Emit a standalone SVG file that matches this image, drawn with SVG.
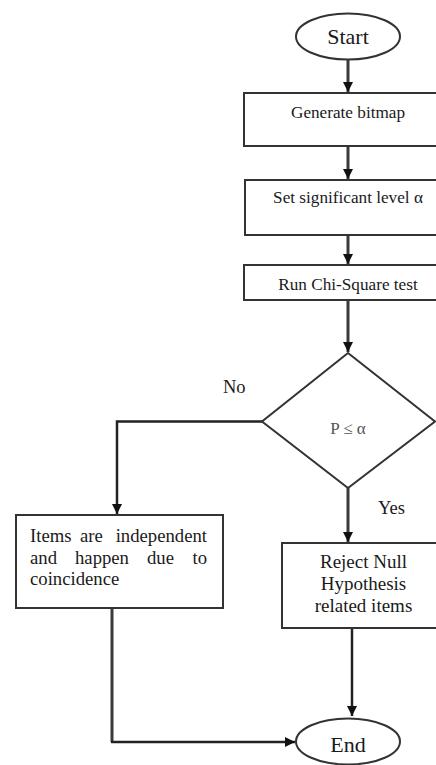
<svg xmlns="http://www.w3.org/2000/svg" width="436" height="765" viewBox="0 0 436 765">
<style>
.shape{fill:#fff;stroke:#333;stroke-width:2}
.t{font-family:"Liberation Serif","Times New Roman",serif;fill:#1a1a1a}
.c{text-anchor:middle}
.e{text-anchor:end}
.line{fill:none;stroke:#3a3a3a;stroke-width:3}
.thin{fill:none;stroke:#222;stroke-width:2.5}
</style>
<defs>
<marker id="ah" markerUnits="userSpaceOnUse" markerWidth="12" markerHeight="12" viewBox="0 0 12 12" refX="11" refY="6" orient="auto">
<path d="M1,1 L11,6 L1,11 Z" fill="#111"/>
</marker>
</defs>
<rect width="436" height="765" fill="#fff"/>
<g id="connectors">
<path class="line" d="M348,60 V92" marker-end="url(#ah)"/>
<path class="line" d="M348,146 V179" marker-end="url(#ah)"/>
<path class="line" d="M348,235 V264" marker-end="url(#ah)"/>
<path class="line" d="M348,300 V352" marker-end="url(#ah)"/>
<path class="thin" d="M262,421.5 H117 V514" marker-end="url(#ah)"/>
<path class="line" d="M348,488 V542" marker-end="url(#ah)"/>
<path class="thin" d="M352,628 V716" marker-end="url(#ah)"/>
<path class="line" d="M112,608 V742"/>
<path class="thin" d="M111,742 H295" marker-end="url(#ah)"/>
</g>
<g id="start">
<ellipse class="shape" cx="348" cy="36.5" rx="52" ry="23"/>
<text class="t c" x="348" y="44" font-size="22">Start</text>
</g>
<g id="generate">
<rect class="shape" x="244" y="93" width="210" height="53"/>
<text class="t c" x="348" y="118" font-size="17.2">Generate bitmap</text>
</g>
<g id="setlevel">
<rect class="shape" x="245" y="180" width="210" height="55"/>
<text class="t c" x="348" y="203" font-size="17.2">Set significant level α</text>
</g>
<g id="chisquare">
<rect class="shape" x="244" y="265" width="210" height="35"/>
<text class="t c" x="348" y="290" font-size="17.2">Run Chi-Square test</text>
</g>
<g id="decision">
<polygon class="shape" points="348,353 435,421.5 348,488 262,421.5" stroke-width="2.5"/>
<text class="t c" x="348" y="434" font-size="17" style="fill:#555">P ≤ α</text>
</g>
<g id="labels">
<text class="t" x="223" y="393" font-size="18.5">No</text>
<text class="t" x="378" y="514" font-size="18.5">Yes</text>
</g>
<g id="independent">
<rect class="shape" x="16" y="515" width="207" height="93"/>
<text class="t" y="542" font-size="18.7"><tspan x="30">Items</tspan><tspan x="80">are</tspan></text>
<text class="t e" x="207" y="542" font-size="18.7">independent</text>
<text class="t" y="563.5" font-size="18.7"><tspan x="30">and</tspan><tspan x="75">happen</tspan><tspan x="147">due</tspan></text>
<text class="t e" x="207" y="563.5" font-size="18.7">to</text>
<text class="t" x="30" y="585" font-size="18.7">coincidence</text>
</g>
<g id="reject">
<rect class="shape" x="282" y="543" width="170" height="85"/>
<text class="t c" x="363.5" y="568" font-size="19">Reject Null</text>
<text class="t c" x="363.5" y="590" font-size="19">Hypothesis</text>
<text class="t c" x="363.5" y="612" font-size="19">related items</text>
</g>
<g id="end">
<ellipse class="shape" cx="348" cy="741.5" rx="52" ry="23"/>
<text class="t c" x="348" y="752" font-size="22">End</text>
</g>
</svg>
